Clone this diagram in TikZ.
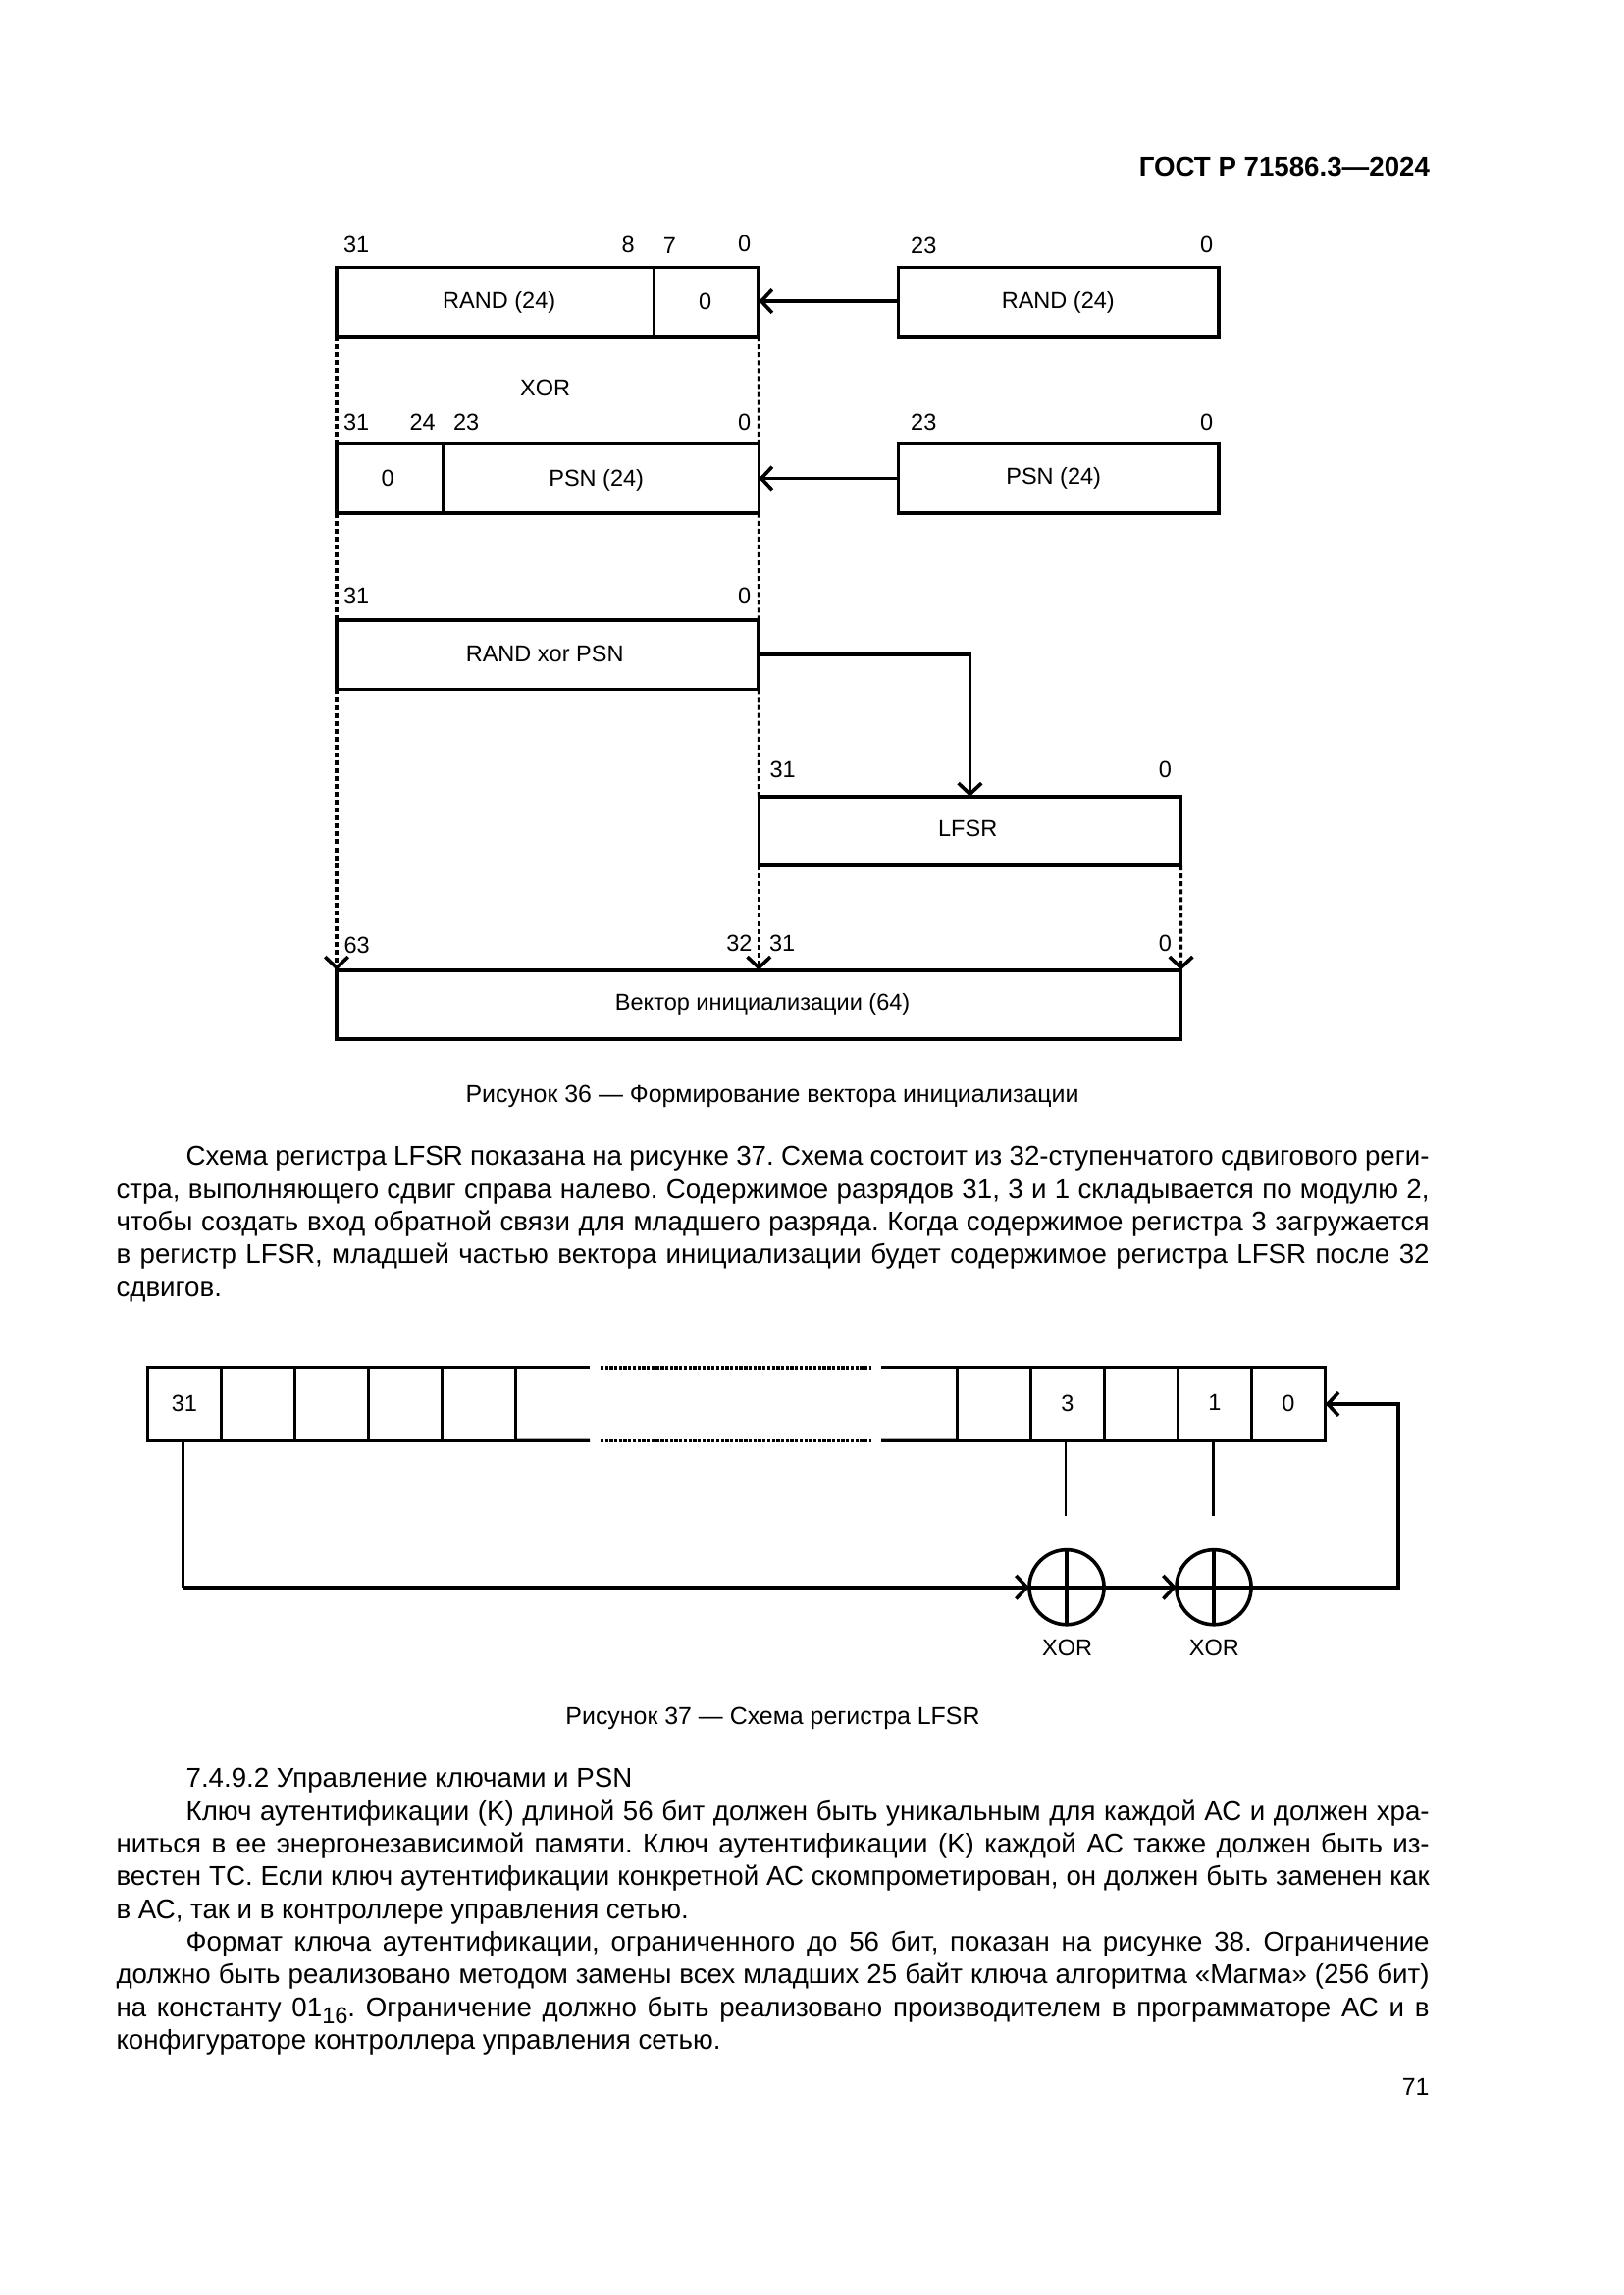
\documentclass[tikz,border=0pt]{standalone}
\usepackage{fontspec}
\setmainfont{Liberation Sans}
\usetikzlibrary{positioning}
\usetikzlibrary{arrows.meta}
\frenchspacing
\newcommand{\jline}[1]{\makebox[481.7bp][s]{#1}\\}
\newcommand{\jfirst}[1]{\makebox[481.7bp][s]{\hspace*{25.6bp}#1}\\}

\begin{document}
\begin{tikzpicture}[x=0.36bp,y=-0.36bp,
  >={Straight Barb[length=4bp,width=8.5bp,line width=1.3bp]},
  box/.style={draw,line width=1.3bp,outer sep=0pt,inner sep=0pt,minimum height=25.35bp},
  cell/.style={draw,line width=1.2bp,outer sep=0pt,inner sep=0pt,minimum width=27bp,minimum height=26.85bp,text depth=.8bp,font=\fontsize{8.5}{10}\selectfont},
  num/.style={inner sep=0pt,xshift=.25bp,font=\fontsize{8.5}{10}\selectfont},
  figcap/.style={inner sep=0pt,font=\fontsize{9}{11}\selectfont},
  wire/.style={line width=1.4bp},
  dashv/.style={line width=1.1bp,dash pattern=on 1.8bp off 1.1bp},
  dotsh/.style={line width=1.3bp,dash pattern=on 1.2bp off .5bp},
  sum/.style={circle,draw,line width=1.3bp,outer sep=0pt,inner sep=0pt,minimum size=27.4bp},
  para/.style={inner sep=0pt,anchor=north west,align=left,font=\fontsize{10}{12.04}\selectfont}]

  \useasboundingbox (0,0) rectangle (1654,2339);

  % Page head
  \node[inner sep=0pt,anchor=east,font=\fontsize{10}{12}\selectfont\bfseries] (head) at (1457.5,170) {ГОСТ Р 71586.3—2024};

  % Figure 36: the registers
  \node[box,minimum width=116.4bp,anchor=north west] (randhi) at (343,272.7) {};
  \node[box,minimum width=38.5bp,right=0pt of randhi] (randlo) {};
  \node[box,minimum width=117.5bp,anchor=north west] (randin) at (915.5,272.7) {};
  \node[box,minimum width=39.06bp,anchor=north west] (psnhi) at (343,452.3) {};
  \node[box,minimum width=115.85bp,right=0pt of psnhi] (psnlo) {};
  \node[box,minimum width=117.5bp,anchor=north west] (psnin) at (915.5,452.3) {};
  \node[box,minimum width=154.9bp,anchor=north west] (rxp) at (343,632) {};
  \node[box,minimum width=154.9bp,anchor=north west] (lfsr) at (773.3,811.7) {};
  \node[box,minimum width=309.8bp,anchor=north west] (iv) at (343,988.7) {};

  % Box texts
  \node[num] (trandhi) at (508,308.5) {RAND (24)};
  \node[num] (trandlo) at (718,307) {0};
  \node[num] (trandin) at (1077.6,308.5) {RAND (24)};
  \node[num] (tpsnhi) at (394.5,487) {0};
  \node[num] (tpsnlo) at (607,489) {PSN (24)};
  \node[num] (tpsnin) at (1073,487) {PSN (24)};
  \node[num] (trxp) at (554.5,666) {RAND xor PSN};
  \node[num] (tlfsr) at (985.5,844) {LFSR};
  \node[num] (tiv) at (776.4,1023) {Вектор инициализации (64)};
  \node[num] (txor) at (555,395) {XOR};

  % Bit numbers
  \node[num] (a31) at (362.4,249) {31};
  \node[num] (a8) at (639.4,249) {8};
  \node[num] (a7) at (681.8,250) {7};
  \node[num] (a0) at (758,248) {0};
  \node[num] (b23) at (940.6,250) {23};
  \node[num] (b0) at (1229,249.5) {0};
  \node[num] (c31n) at (362.4,430) {31};
  \node[num] (c24) at (430,430) {24};
  \node[num] (c23) at (474.5,430) {23};
  \node[num] (c0n) at (758,430) {0};
  \node[num] (d23) at (940.6,430) {23};
  \node[num] (d0) at (1229,430) {0};
  \node[num] (e31) at (362.4,607) {31};
  \node[num] (e0) at (758,607) {0};
  \node[num] (f31) at (797,784.5) {31};
  \node[num] (f0) at (1186.7,784.5) {0};
  \node[num] (g63) at (363,963) {63};
  \node[num] (g32) at (752.7,961) {32};
  \node[num] (g31) at (796.4,961) {31};
  \node[num] (g0) at (1186.7,961) {0};

  \draw[wire,line width=1.6bp,->] ([yshift=.3bp]randin.west) -- ([yshift=.3bp]randlo.east);
  \draw[wire,->] (psnin.west) -- (psnlo.east);
  \draw[wire,->] (rxp.east) -| (lfsr.north);

  \draw[dashv] (randhi.south west) -- (psnhi.north west);
  \draw[dashv] (randlo.south east) -- (psnlo.north east);
  \draw[dashv] (psnhi.south west) -- (rxp.north west);
  \draw[dashv] (psnlo.south east) -- (rxp.north east);
  \draw[dashv] (rxp.south east) -- (lfsr.north west);
  \draw[dashv,->] (rxp.south west) -- (iv.north west);
  \draw[dashv,->] (lfsr.south west) -- (lfsr.south west |- iv.north);
  \draw[dashv,->] (lfsr.south east) -- (iv.north east);

  \node[figcap] (cap36) at (787,1117) {Рисунок 36 — Формирование вектора инициализации};

  % First text block
  \node[para] (text1) at (118,1168) {%
    \jfirst{Схема регистра LFSR показана на рисунке 37. Схема состоит из 32-ступенчатого сдвигового реги-}
    \jline{стра, выполняющего сдвиг справа налево. Содержимое разрядов 31, 3 и 1 складывается по модулю 2,}
    \jline{чтобы создать вход обратной связи для младшего разряда. Когда содержимое регистра 3 загружается}
    \jline{в регистр LFSR, младшей частью вектора инициализации будет содержимое регистра LFSR после 32}
    \hspace*{0pt}сдвигов.};

  % Figure 37: left cells, right cells
  \node[cell,anchor=north west] (r31) at (150.5,1393.7) {31};
  \node[cell,right=0pt of r31] (r30) {};
  \node[cell,right=0pt of r30] (r29) {};
  \node[cell,right=0pt of r29] (r28) {};
  \node[cell,right=0pt of r28] (r27) {};
  \node[cell,anchor=north west] (r4) at (975.5,1393.7) {};
  \node[cell,right=0pt of r4] (r3) {3};
  \node[cell,right=0pt of r3] (r2) {};
  \node[cell,right=0pt of r2] (r1) {1};
  \node[cell,right=0pt of r1] (r0) {0};

  % The gap in the middle of the register
  \coordinate (ta) at (601,1393.7);
  \coordinate (tb) at (611.8,1393.7);
  \coordinate (tc) at (887.5,1393.7);
  \coordinate (td) at (898,1393.7);
  \coordinate (ba) at (601,1468.3);
  \coordinate (bb) at (611.8,1468.3);
  \coordinate (bc) at (887.5,1468.3);
  \coordinate (bd) at (898,1468.3);
  \draw[line width=1.2bp] (r27.north east) -- (ta);
  \draw[line width=1.2bp] (r27.south east) -- (ba);
  \draw[line width=1.2bp] (td) -- (r4.north west);
  \draw[line width=1.2bp] (bd) -- (r4.south west);
  \draw[dotsh] (tb) -- (tc);
  \draw[dotsh] (bb) -- (bc);

  % Adders and feedback
  \node[sum] (xa) at (1087,1617.7) {};
  \node[sum] (xb) at (1237,1617.7) {};
  \draw[line width=1.2bp] (xa.north) -- (xa.south);
  \draw[line width=1.2bp] (xb.north) -- (xb.south);
  \draw[wire] (xa.west) -- (xa.east);
  \draw[wire] (xb.west) -- (xb.east);
  \node[num] (lxa) at (1087,1679) {XOR};
  \node[num] (lxb) at (1236.6,1679) {XOR};

  \coordinate (ea) at (1086,1545);
  \coordinate (eb) at (1236.5,1545);
  \coordinate (fb) at (1425,1617.7);
  \draw[line width=1bp] (r3.south -| ea) -- (ea);
  \draw[line width=1.1bp] (r1.south -| eb) -- (eb);
  \draw[line width=1bp] ([xshift=-.5bp]r31.south) -- ([xshift=-.5bp]r31.south |- xa.west);
  \draw[wire,->] ([xshift=-.5bp]r31.south |- xa.west) -- (xa.west);
  \draw[wire,->] (xa.east) -- (xb.west);
  \draw[wire,->] (xb.east) -- (fb) |- (r0.east);

  \node[figcap] (cap37) at (787.5,1751.5) {Рисунок 37 — Схема регистра LFSR};

  % Second text block
  \node[para] (text2) at (118,1802) {%
    \hspace*{25.6bp}7.4.9.2 Управление ключами и PSN\\
    \jfirst{Ключ аутентификации (K) длиной 56 бит должен быть уникальным для каждой АС и должен хра-}
    \jline{ниться в ее энергонезависимой памяти. Ключ аутентификации (K) каждой АС также должен быть из-}
    \jline{вестен ТС. Если ключ аутентификации конкретной АС скомпрометирован, он должен быть заменен как}
    \hspace*{0pt}в АС, так и в контроллере управления сетью.\\
    \jfirst{Формат ключа аутентификации, ограниченного до 56 бит, показан на рисунке 38. Ограничение}
    \jline{должно быть реализовано методом замены всех младших 25 байт ключа алгоритма «Магма» (256 бит)}
    \jline{на константу 01\raisebox{-2.5bp}{\fontsize{8.5}{10}\selectfont 16}. Ограничение должно быть реализовано производителем в программаторе АС и в}
    \hspace*{0pt}конфигураторе контроллера управления сетью.};

  \node[inner sep=0pt,anchor=east,font=\fontsize{9}{11}\selectfont] (page) at (1457,2127) {71};
\end{tikzpicture}
\end{document}
